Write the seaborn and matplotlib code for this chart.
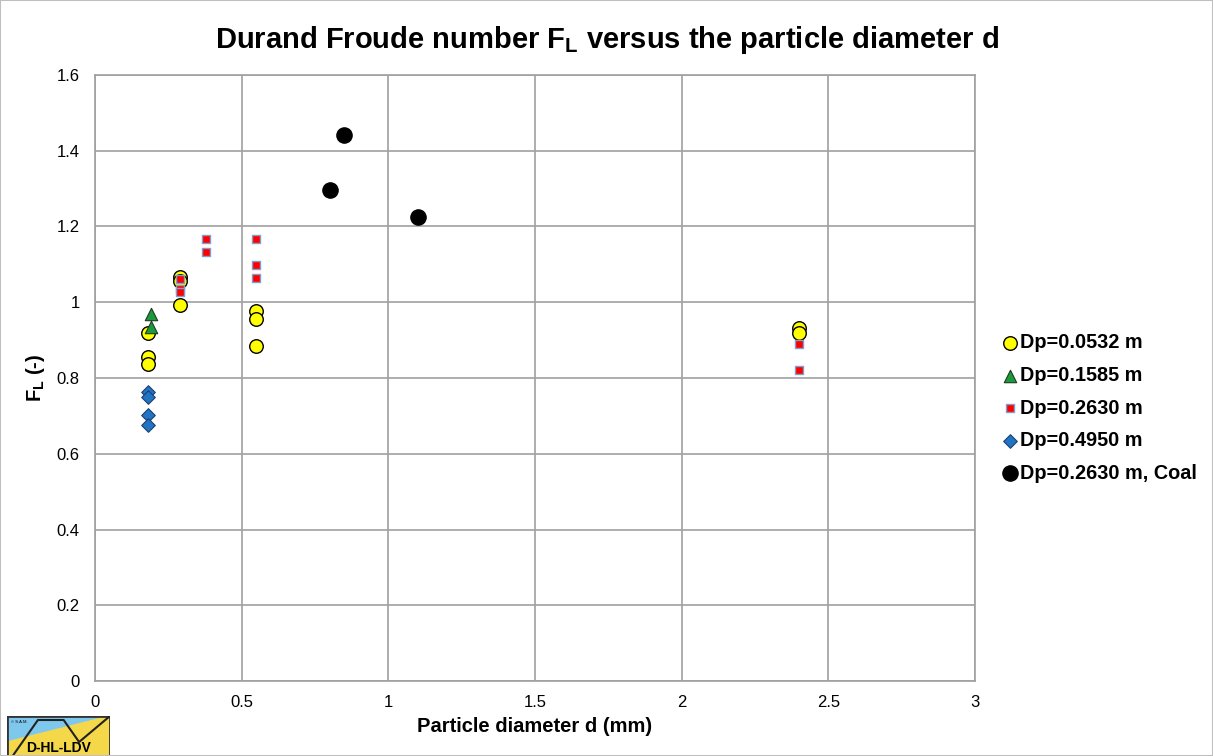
import numpy as np
import pandas as pd
import matplotlib
matplotlib.use("Agg")
import matplotlib.pyplot as plt
import matplotlib.patches as mpatches
import seaborn as sns

# data
d_0532 = [0.18, 0.18, 0.18, 0.29, 0.29, 0.29, 0.55, 0.55, 0.55, 2.4, 2.4]
fl_0532 = [0.918, 0.855, 0.837, 1.066, 1.057, 0.992, 0.976, 0.955, 0.884, 0.931, 0.918]

d_1585 = [0.19, 0.19]
fl_1585 = [0.970, 0.934]

d_2630 = [0.29, 0.29, 0.29, 0.38, 0.38, 0.55, 0.55, 0.55, 2.4, 2.4]
fl_2630 = [1.062, 1.035, 1.027, 1.166, 1.132, 1.166, 1.098, 1.063, 0.891, 0.822]

d_4950 = [0.18, 0.18, 0.18, 0.18]
fl_4950 = [0.762, 0.751, 0.701, 0.675]

d_coal = [0.85, 0.80, 1.10]
fl_coal = [1.442, 1.296, 1.224]

labels = ["Dp=0.0532 m", "Dp=0.1585 m", "Dp=0.2630 m", "Dp=0.4950 m", "Dp=0.2630 m, Coal"]

rows = []
for lab, xs, ys in zip(labels, [d_0532, d_1585, d_2630, d_4950, d_coal],
                       [fl_0532, fl_1585, fl_2630, fl_4950, fl_coal]):
    for x, y in zip(xs, ys):
        rows.append({"d": x, "FL": y, "series": lab})
df = pd.DataFrame(rows)

styles = {
    "Dp=0.0532 m": dict(marker="o", color="#ffff00", edgecolor="black", s=95, linewidth=1.0),
    "Dp=0.1585 m": dict(marker="^", color="#1a9a3c", edgecolor="#1f3a1f", s=80, linewidth=0.8),
    "Dp=0.2630 m": dict(marker="s", color="#ff0000", edgecolor="#7f9fcf", s=40, linewidth=1.0),
    "Dp=0.4950 m": dict(marker="D", color="#1f74c4", edgecolor="#1f3f6f", s=48, linewidth=0.8),
    "Dp=0.2630 m, Coal": dict(marker="o", color="black", edgecolor="black", s=120, linewidth=1.0),
}

sns.set_style("white")
plt.rcParams["font.family"] = ["Liberation Sans", "DejaVu Sans"]
plt.rcParams["mathtext.fontset"] = "custom"
plt.rcParams["mathtext.rm"] = "Liberation Sans"
plt.rcParams["mathtext.bf"] = "Liberation Sans:bold"
plt.rcParams["text.color"] = "black"
plt.rcParams["axes.labelcolor"] = "black"
plt.rcParams["xtick.color"] = "black"
plt.rcParams["ytick.color"] = "black"

fig = plt.figure(figsize=(12.13, 7.56), dpi=100)
ax = fig.add_axes([0.0783, 0.0992, 0.7255, 0.8016])

for lab in labels:
    st = styles[lab]
    sns.scatterplot(data=df[df["series"] == lab], x="d", y="FL", ax=ax,
                    label=lab, zorder=3, **st)

ax.set_xlim(0, 3)
ax.set_ylim(0, 1.6)
ax.set_xticks(np.arange(0, 3.01, 0.5))
ax.set_xticklabels(["0", "0.5", "1", "1.5", "2", "2.5", "3"])
ax.set_yticks(np.arange(0, 1.61, 0.2))
ax.set_yticklabels(["0", "0.2", "0.4", "0.6", "0.8", "1", "1.2", "1.4", "1.6"])
ax.tick_params(labelsize=12, length=0)
ax.tick_params(axis="x", pad=10)
ax.tick_params(axis="y", pad=11)
ax.grid(True, color="#a0a0a0", linewidth=1.2)
ax.set_axisbelow(True)
for sp in ax.spines.values():
    sp.set_color("#a0a0a0")
    sp.set_linewidth(1.2)

ax.set_xlabel("Particle diameter d (mm)", fontsize=14.5, fontweight="bold", labelpad=5)
ax.set_ylabel(r"F$_\mathbf{L}$ (-)", fontsize=14.5, fontweight="bold", labelpad=7)
fig.text(0.5, 0.947, r"Durand Froude number F$_\mathbf{L}$ versus the particle diameter d",
         ha="center", va="center", fontsize=21, fontweight="bold")

leg = ax.legend(loc="center left", bbox_to_anchor=(1002 / 1213, 1 - 408 / 756),
                bbox_transform=fig.transFigure, frameon=False,
                prop={"weight": "bold", "size": 14.3}, handlelength=0.8,
                handletextpad=0.1, labelspacing=0.68, borderpad=0, borderaxespad=0)

# logo in the lower-left corner
lax = fig.add_axes([7 / 1213, 0, 103 / 1213, 40 / 756])
lax.set_xlim(0, 1)
lax.set_ylim(0, 1)
lax.axis("off")
lax.add_patch(mpatches.Rectangle((0, 0), 1, 1, color="#7ec8ee"))
lax.add_patch(mpatches.Polygon([[0, 0], [1, 0], [1, 1], [0, 0.35]], color="#f5d84a"))
lax.plot([0, 0.3, 0.55, 0.7, 1], [-0.2, 0.9, 0.9, 0.35, 1.0], color="#222222", lw=1.5)
lax.add_patch(mpatches.Rectangle((0, 0), 1, 1, fill=False, edgecolor="#333333", lw=2))
lax.text(0.5, 0.02, "D-HL-LDV", ha="center", va="bottom", fontsize=10, fontweight="bold")
lax.text(0.04, 0.85, "© S.A.M.", ha="left", va="center", fontsize=3)

fig.patches.append(mpatches.Rectangle((0, 0), 1, 1, transform=fig.transFigure,
                                      fill=False, edgecolor="#bfbfbf", lw=1.5))

fig.savefig("out.png", dpi=100)
